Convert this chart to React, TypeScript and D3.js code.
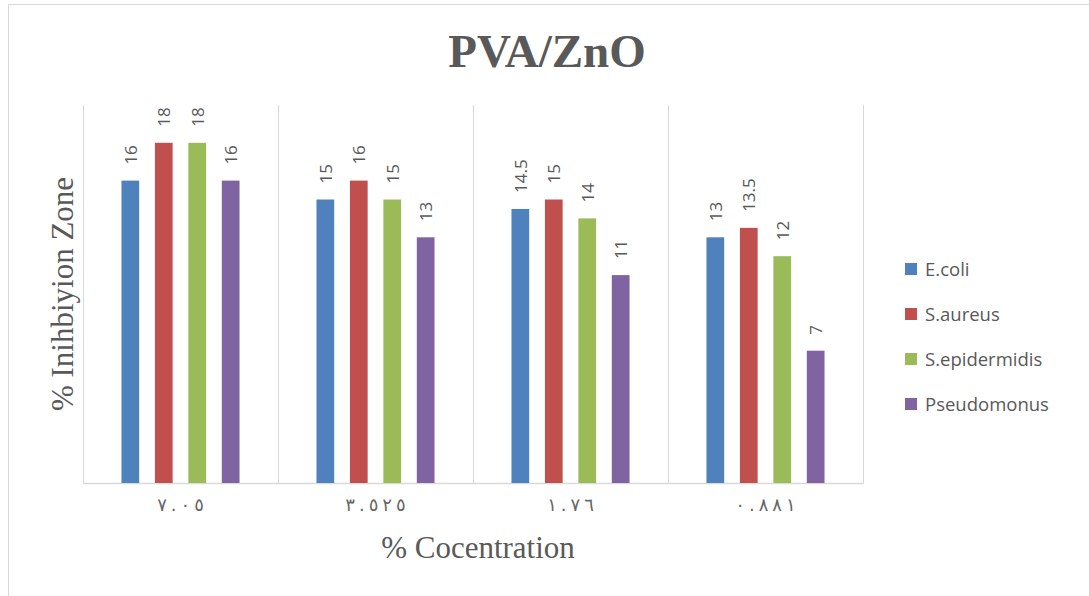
import * as d3 from 'd3';
import { useEffect } from 'react';

const categories = ['٧.٠٥', '٣.٥٢٥', '١.٧٦', '٠.٨٨١'];
const seriesNames = ['E.coli', 'S.aureus', 'S.epidermidis', 'Pseudomonus'];
const seriesColors = ['#4f81bd', '#c0504d', '#9bbb59', '#8064a2'];
const ecoli = [16, 15, 14.5, 13];
const saureus = [18, 16, 15, 13.5];
const sepidermidis = [18, 15, 14, 12];
const pseudomonus = [16, 13, 11, 7];
const seriesValues = [ecoli, saureus, sepidermidis, pseudomonus];

const W = 1089;
const H = 596;
const plot = { left: 83, right: 863, top: 105, bottom: 483 };
const textColor = '#595959';
const gridColor = '#d9d9d9';
const labelFont = '"Open Sans", "Noto Sans", sans-serif';
const serif = '"Liberation Serif", "DejaVu Serif", serif';

export default function App() {
  useEffect(() => {
    document.body.style.margin = '0';
  }, []);

  const x0 = d3.scaleBand<string>().domain(categories).range([plot.left, plot.right]);
  const x1 = d3
    .scaleBand<string>()
    .domain(seriesNames)
    .range([0, x0.bandwidth()])
    .paddingInner(0.47)
    .paddingOuter(1.15);
  const y = d3.scaleLinear().domain([0, 20]).range([plot.bottom, plot.top]);

  // vertical grid lines at category boundaries
  const bounds = categories.map((c) => x0(c) as number).concat([plot.right]);

  return (
    <svg width={W} height={H} style={{ display: 'block', background: '#fff' }}>
      <rect x={8.5} y={4.5} width={W + 20} height={H + 20} fill="#fff" stroke={gridColor} />

      <text
        x={547}
        y={67}
        textAnchor="middle"
        fontFamily={serif}
        fontWeight="bold"
        fontSize={47}
        fill={textColor}
      >
        PVA/ZnO
      </text>

      {bounds.map((bx, i) => (
        <line key={i} x1={bx + 0.5} x2={bx + 0.5} y1={plot.top} y2={plot.bottom} stroke={gridColor} />
      ))}
      <line x1={plot.left} x2={plot.right + 1} y1={plot.bottom + 0.5} y2={plot.bottom + 0.5} stroke={gridColor} strokeWidth={1.5} />

      {categories.map((cat, ci) => (
        <g key={cat} transform={`translate(${x0(cat)},0)`}>
          {seriesNames.map((s, si) => {
            const v = seriesValues[si][ci];
            const bx = x1(s) as number;
            const cx = bx + x1.bandwidth() / 2;
            const top = y(v);
            return (
              <g key={s}>
                <rect x={bx} y={top} width={x1.bandwidth()} height={plot.bottom - top} fill={seriesColors[si]} />
                <text
                  transform={`translate(${cx + 6.5},${top - 16}) rotate(-90)`}
                  fontFamily={labelFont}
                  fontSize={17}
                  fill={textColor}
                >
                  {v}
                </text>
              </g>
            );
          })}
          <text
            x={x0.bandwidth() / 2}
            y={511}
            textAnchor="middle"
            fontFamily='"DejaVu Sans ExtraLight", "DejaVu Sans", sans-serif'
            fontSize={18}
            fill="#666"
          >
            {Array.from(cat).map((ch, k) => (
              <tspan key={k} dx={k === 0 ? 0 : 4}>
                {ch}
              </tspan>
            ))}
          </text>
        </g>
      ))}

      <text
        x={478}
        y={558}
        textAnchor="middle"
        fontFamily={serif}
        fontSize={31}
        fill={textColor}
      >
        % Cocentration
      </text>
      <text
        transform={`translate(73,${(plot.top + plot.bottom) / 2}) rotate(-90)`}
        textAnchor="middle"
        fontFamily={serif}
        fontSize={31}
        fill={textColor}
      >
        % Inihbiyion Zone
      </text>

      {seriesNames.map((s, i) => (
        <g key={s} transform={`translate(905,${269 + i * 45})`}>
          <rect x={0} y={-6} width={12} height={12} fill={seriesColors[i]} />
          <text x={20} y={6.5} fontFamily={labelFont} fontSize={18.5} fill={textColor}>
            {s}
          </text>
        </g>
      ))}
    </svg>
  );
}
